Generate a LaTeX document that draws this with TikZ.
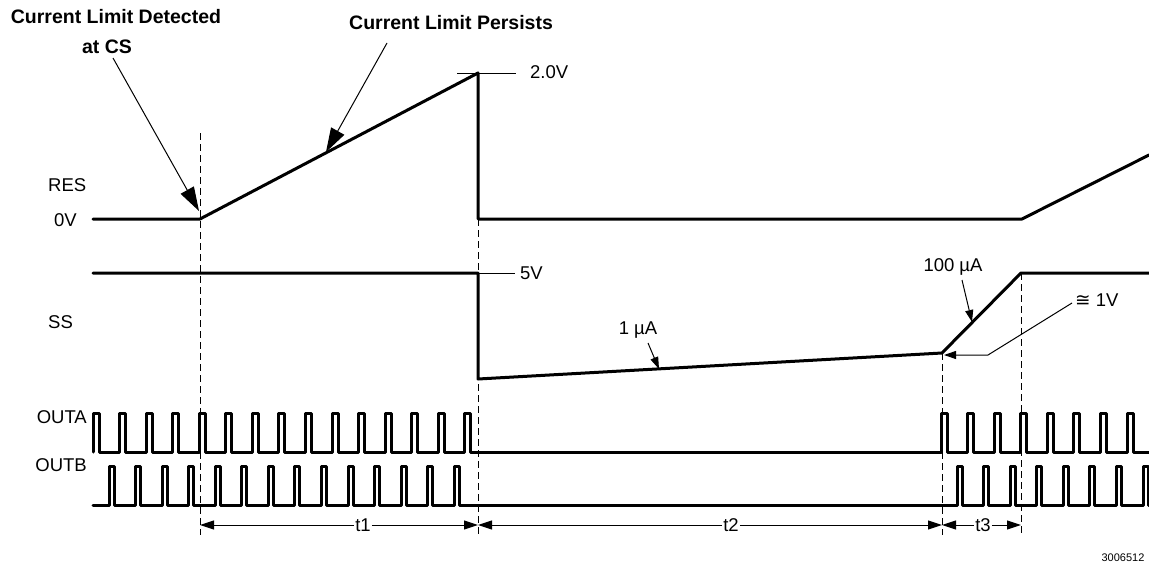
\documentclass[tikz,border=0pt]{standalone}
\usepackage{fontspec}
\setmainfont{Liberation Sans}
\newfontfamily\symfont{DejaVu Sans}
\usetikzlibrary{arrows.meta}
\tikzset{
  wave/.style={line width=3pt, line join=round, line cap=round},
  guide/.style={line width=1pt, dash pattern=on 7pt off 4pt},
  tick/.style={line width=1pt},
  callout/.style={line width=1pt, -{Triangle[length=24pt,width=15pt]}},
  pointer/.style={line width=1pt, -{Triangle[length=12pt,width=8pt]}},
  span/.style={line width=1pt, -{Triangle[length=14pt,width=9pt]}},
  lbl/.style={font=\fontsize{18.5}{20}\selectfont, inner sep=0pt},
  head/.style={font=\bfseries\fontsize{19.5}{21}\selectfont, inner sep=0pt}
}
\begin{document}
\begin{tikzpicture}[x=1pt, y=-1pt]
  \useasboundingbox (0,0) rectangle (1149,565);
  \clip (0,0) rectangle (1149,565);
  \coordinate (m0) at (200,219);
  \coordinate (m1) at (478,219);
  \coordinate (m2) at (942,353);
  \coordinate (m3) at (1021,273);
  \coordinate (resTop) at (478,73);
  \coordinate (ssLow) at (478,379);
  \node [head] (det) at (116,17) {Current Limit Detected};
  \node [head] (atcs) at (107,47) {at CS};
  \node [head, anchor=west] (pers) at (349,23) {Current Limit Persists};
  \node [lbl, anchor=west] (res) at (48,185) {RES};
  \node [lbl, anchor=west] (zero) at (54,220) {0V};
  \node [lbl, anchor=west] (ss) at (48,322) {SS};
  \node [lbl, anchor=east] (outa) at (87,417) {OUTA};
  \node [lbl, anchor=east] (outb) at (87,465) {OUTB};
  \node [lbl, anchor=west] (two) at (530,72) {2.0V};
  \node [lbl, anchor=west] (five) at (520,273) {5V};
  \node [lbl] (ua1) at (638,330) {1 µA};
  \node [lbl] (ua100) at (953,267) {100 µA};
  \node [lbl, anchor=west] (onev) at (1075,300) {{\symfont ≅} 1V};
  \node [lbl, inner sep=1pt] (t1) at (363,525) {t1};
  \node [lbl, inner sep=1pt] (t2) at (731,525) {t2};
  \node [lbl, inner sep=1pt] (t3) at (983,525) {t3};
  \node [font=\fontsize{11}{12}\selectfont, inner sep=0pt] (fig) at (1123,558) {3006512};
  \draw [guide] (200,133) -- (m0 |- 0,535);
  \draw [guide] (m1) -- (m1 |- 0,535);
  \draw [guide] (m2) -- (m2 |- 0,535);
  \draw [guide] (m3) -- (m3 |- 0,535);
  \draw [wave] (93,219) -- (m0) -- (resTop) -- (m1) -- (1022,219) -- (1149,155);
  \draw [tick] (457,73) -- (516,73);
  \draw [wave] (93,273) -- (478,273) -- (ssLow) -- (m2) -- (m3) -- (1149,273);
  \draw [tick] (478,273) -- (515,273);
  \draw [wave] (93,452) \foreach \k in {0,...,14} {-- ({93+26.57*\k},452) -- ++(0,-39) -- ++(6,0) -- ++(0,39)}
    -- (941,452) \foreach \k in {0,...,7} {-- ({941+26.57*\k},452) -- ++(0,-39) -- ++(6,0) -- ++(0,39)} -- (1149,452);
  \draw [wave] (93,505) \foreach \k in {0,...,13} {-- ({109+26.57*\k},505) -- ++(0,-39) -- ++(5,0) -- ++(0,39)}
    -- (957,505) \foreach \k in {0,...,7} {-- ({957+26.57*\k},505) -- ++(0,-39) -- ++(5,0) -- ++(0,39)} -- (1149,505);
  \draw [callout] (113,58) -- (199,211);
  \draw [callout] (387,43) -- (326,152);
  \draw [pointer] (648,343) -- (659,369);
  \draw [pointer] (962,280) -- (972,322);
  \draw [pointer] (1072,303) -- (988,355) -- (944,355);
  \draw [span] (t1.west) -- (t1.west -| m0);
  \draw [span] (t1.east) -- (t1.east -| m1);
  \draw [span] (t2.west) -- (t2.west -| m1);
  \draw [span] (t2.east) -- (t2.east -| m2);
  \draw [span] (t3.west) -- (t3.west -| m2);
  \draw [span] (t3.east) -- (t3.east -| m3);
\end{tikzpicture}
\end{document}
